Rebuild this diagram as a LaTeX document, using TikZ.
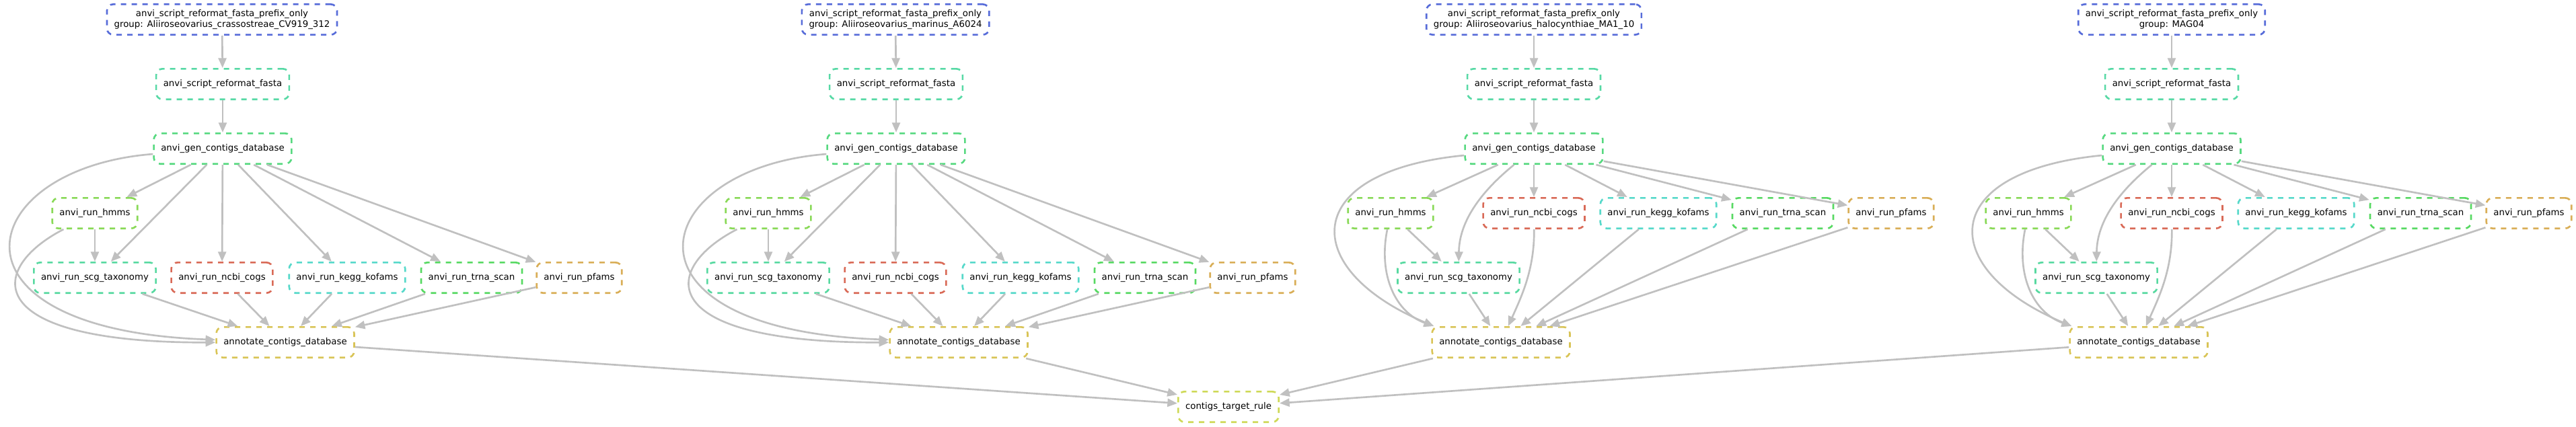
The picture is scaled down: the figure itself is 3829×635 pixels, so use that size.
\documentclass[tikz,border=0pt]{standalone}
\usepackage{fontspec}
\newfontfamily\dvs{DejaVu Sans}
\usetikzlibrary{arrows.meta}
\definecolor{cTop}{RGB}{87,108,217}
\definecolor{cRef}{RGB}{87,217,165}
\definecolor{cGen}{RGB}{87,217,128}
\definecolor{cHmm}{RGB}{137,217,87}
\definecolor{cScg}{RGB}{87,217,160}
\definecolor{cNcbi}{RGB}{217,106,87}
\definecolor{cKegg}{RGB}{87,217,202}
\definecolor{cTrna}{RGB}{87,217,98}
\definecolor{cPfam}{RGB}{217,174,87}
\definecolor{cAnn}{RGB}{217,196,87}
\definecolor{cTgt}{RGB}{206,217,87}
\definecolor{edgegrey}{RGB}{192,192,192}
\tikzset{
  wf/.style={draw=#1, line width=2pt, dash pattern=on 6pt off 6pt,
    rounded corners=7pt, minimum height=34pt, inner xsep=8pt, inner ysep=2pt,
    align=center, font=\dvs\fontsize{10pt}{12pt}\selectfont},
  conn/.style={draw=edgegrey, line width=2pt, -{Triangle[length=11pt,width=9pt]}},
}
% group with hmms on its own rank
\newcommand\grpA[3]{%
  \node[wf=cTop] (top#2) at ({#1+330},29) {anvi\_script\_reformat\_fasta\_prefix\_only\\group: #3};
  \node[wf=cRef] (ref#2) at ({#1+331},125) {anvi\_script\_reformat\_fasta};
  \node[wf=cGen] (gen#2) at ({#1+331},221) {anvi\_gen\_contigs\_database};
  \node[wf=cHmm] (hmms#2) at ({#1+141},317) {anvi\_run\_hmms};
  \node[wf=cScg] (scg#2) at ({#1+141},413) {anvi\_run\_scg\_taxonomy};
  \node[wf=cNcbi] (ncbi#2) at ({#1+330},413) {anvi\_run\_ncbi\_cogs};
  \node[wf=cKegg] (kegg#2) at ({#1+516},413) {anvi\_run\_kegg\_kofams};
  \node[wf=cTrna] (trna#2) at ({#1+701},413) {anvi\_run\_trna\_scan};
  \node[wf=cPfam] (pfams#2) at ({#1+861},413) {anvi\_run\_pfams};
  \node[wf=cAnn] (ann#2) at ({#1+424},509) {annotate\_contigs\_database};
  \draw[conn] (top#2) -- (ref#2);
  \draw[conn] (ref#2) -- (gen#2);
  \draw[conn] (gen#2) -- (hmms#2);
  \draw[conn] (gen#2) -- (scg#2);
  \draw[conn] (gen#2) -- (ncbi#2);
  \draw[conn] (gen#2) -- (kegg#2);
  \draw[conn] (gen#2) -- (trna#2);
  \draw[conn] (gen#2) -- (pfams#2);
  \draw[conn] (hmms#2) -- (scg#2);
  \draw[conn] (scg#2) -- (ann#2);
  \draw[conn] (ncbi#2) -- (ann#2);
  \draw[conn] (kegg#2) -- (ann#2);
  \draw[conn] (trna#2) -- (ann#2);
  \draw[conn] (pfams#2) -- (ann#2);
  \draw[conn] (gen#2) .. controls ({#1-40},250) and ({#1-100},490) .. (ann#2);
  \draw[conn] (hmms#2) .. controls ({#1-20},400) and ({#1-30},510) .. (ann#2);
  \draw[conn] (ann#2) -- (target);
}
% group with hmms on the same rank as the other annotators
\newcommand\grpB[3]{%
  \node[wf=cTop] (top#2) at ({#1+2280},29) {anvi\_script\_reformat\_fasta\_prefix\_only\\group: #3};
  \node[wf=cRef] (ref#2) at ({#1+2280},125) {anvi\_script\_reformat\_fasta};
  \node[wf=cGen] (gen#2) at ({#1+2280},221) {anvi\_gen\_contigs\_database};
  \node[wf=cHmm] (hmms#2) at ({#1+2067},317) {anvi\_run\_hmms};
  \node[wf=cNcbi] (ncbi#2) at ({#1+2280},317) {anvi\_run\_ncbi\_cogs};
  \node[wf=cKegg] (kegg#2) at ({#1+2465},317) {anvi\_run\_kegg\_kofams};
  \node[wf=cTrna] (trna#2) at ({#1+2650},317) {anvi\_run\_trna\_scan};
  \node[wf=cPfam] (pfams#2) at ({#1+2811},317) {anvi\_run\_pfams};
  \node[wf=cScg] (scg#2) at ({#1+2168},413) {anvi\_run\_scg\_taxonomy};
  \node[wf=cAnn] (ann#2) at ({#1+2231},509) {annotate\_contigs\_database};
  \draw[conn] (top#2) -- (ref#2);
  \draw[conn] (ref#2) -- (gen#2);
  \draw[conn] (gen#2) -- (hmms#2);
  \draw[conn] (gen#2) -- (ncbi#2);
  \draw[conn] (gen#2) -- (kegg#2);
  \draw[conn] (gen#2) -- (trna#2);
  \draw[conn] (gen#2) -- (pfams#2);
  \draw[conn] (gen#2) .. controls ({#1+2200},286) and ({#1+2169},330) .. (scg#2);
  \draw[conn] (hmms#2) -- (scg#2);
  \draw[conn] (scg#2) -- (ann#2);
  \draw[conn] (ncbi#2) .. controls ({#1+2281},400) and ({#1+2262},440) .. (ann#2);
  \draw[conn] (kegg#2) -- (ann#2);
  \draw[conn] (trna#2) -- (ann#2);
  \draw[conn] (pfams#2) -- (ann#2);
  \draw[conn] (gen#2) .. controls ({#1+1930},255) and ({#1+1930},400) .. ([xshift=3pt]ann#2.north west);
  \draw[conn] (hmms#2) .. controls ({#1+2048},410) and ({#1+2075},465) .. ([xshift=3pt]ann#2.north west);
  \draw[conn] (ann#2) -- (target);
}
\begin{document}
\begin{tikzpicture}[x=0.75pt,y=-0.75pt]
  \useasboundingbox (0,0) rectangle (3829,635);
  \node[wf=cTgt] (target) at (1826,605) {contigs\_target\_rule};
  \grpA{0}{1}{Aliiroseovarius\_crassostreae\_CV919\_312}
  \grpA{1001}{2}{Aliiroseovarius\_marinus\_A6024}
  \grpB{0}{3}{Aliiroseovarius\_halocynthiae\_MA1\_10}
  \grpB{948}{4}{MAG04}
\end{tikzpicture}
\end{document}
